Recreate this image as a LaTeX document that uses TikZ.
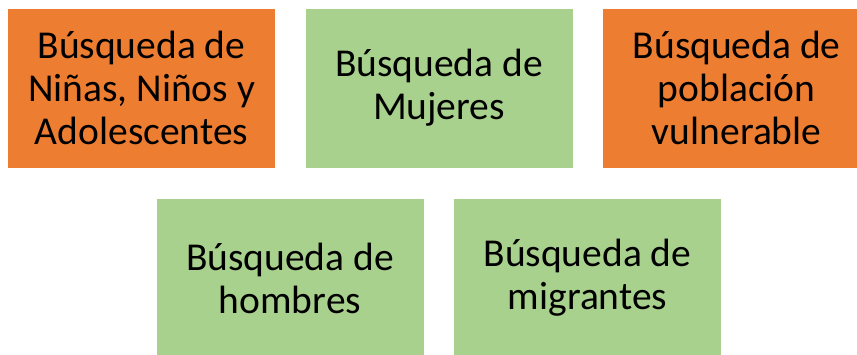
\documentclass[tikz,border=0pt]{standalone}
\usepackage{fontspec}
\setmainfont{Carlito}
\usepackage{tikz}
\usetikzlibrary{positioning}
\definecolor{naranja}{RGB}{237,125,49}
\definecolor{verde}{RGB}{169,209,142}

\begin{document}
\begin{tikzpicture}[x=1pt,y=-1pt]
\tikzstyle{caja}=[draw=white,line width=0.6pt,minimum width=268pt,minimum height=160pt,inner sep=0pt,align=center,font=\fontsize{39.5}{43}\selectfont]
\useasboundingbox (0,0) rectangle (857,354);
\clip (0,0) rectangle (857,354);
% fila de arriba
\node[caja,fill=naranja] (nna) at (141.5,88) {Búsqueda de\\Niñas, Niños y\\Adolescentes};
\node[caja,fill=verde] (mujeres) at (439,88) {Búsqueda de\\Mujeres};
\node[caja,fill=naranja] (vulnerable) at (736.7,88) {Búsqueda de\\población\\vulnerable};
% fila de abajo
\node[caja,fill=verde] (hombres) at (290,278) {Búsqueda de\\hombres};
\node[caja,fill=verde] (migrantes) at (587.5,278) {Búsqueda de\\migrantes};
\end{tikzpicture}
\end{document}
